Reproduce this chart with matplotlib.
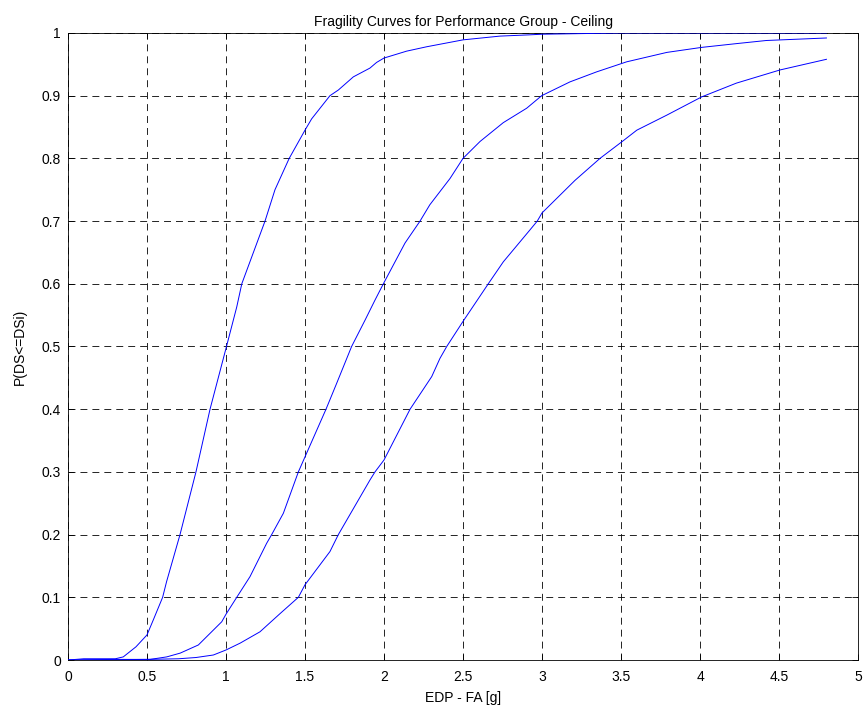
import numpy as np
import matplotlib
matplotlib.use("Agg")
import matplotlib.pyplot as plt

plt.rcParams['font.family'] = ['Liberation Sans', 'DejaVu Sans']
plt.rcParams['lines.scale_dashes'] = False

# values
edp_ds1 = [0, 0.1, 0.3, 0.35, 0.43, 0.5, 0.54, 0.599, 0.624, 0.709, 0.81, 0.899, 1.0, 1.068, 1.1,
           1.247, 1.31, 1.4, 1.5, 1.542, 1.658, 1.711, 1.806, 1.911, 1.953, 2.0, 2.143, 2.27,
           2.5, 2.734, 2.92, 3.0, 3.5, 4.0, 4.8]
p_ds1 = [0, 0.002, 0.002, 0.005, 0.021, 0.04, 0.064, 0.1, 0.125, 0.2, 0.3, 0.4, 0.497, 0.563, 0.6,
         0.70, 0.75, 0.80, 0.845, 0.863, 0.9, 0.909, 0.93, 0.944, 0.953, 0.96, 0.971, 0.978,
         0.989, 0.995, 0.997, 0.998, 1.0, 1.0, 1.0]

edp_ds2 = [0, 0.3, 0.52, 0.625, 0.71, 0.825, 0.973, 1.0, 1.068, 1.152, 1.257, 1.289, 1.363, 1.458,
           1.5, 1.633, 1.70, 1.795, 1.88, 1.943, 1.996, 2.133, 2.228, 2.29, 2.418, 2.5, 2.608,
           2.755, 2.903, 2.998, 3.177, 3.346, 3.536, 3.79, 4.01, 4.23, 4.42, 4.8]
p_ds2 = [0, 0.001, 0.001, 0.005, 0.011, 0.024, 0.061, 0.073, 0.10, 0.133, 0.186, 0.2, 0.234, 0.3,
         0.324, 0.4, 0.441, 0.5, 0.542, 0.574, 0.6, 0.665, 0.70, 0.726, 0.768, 0.8, 0.827,
         0.857, 0.88, 0.9, 0.922, 0.938, 0.954, 0.969, 0.977, 0.983, 0.988, 0.992]

edp_ds3 = [0, 0.5, 0.7, 0.81, 0.92, 1.0, 1.09, 1.215, 1.342, 1.458, 1.5, 1.658, 1.711, 1.911, 1.943,
           2.0, 2.165, 2.302, 2.354, 2.397, 2.5, 2.66, 2.755, 2.818, 2.924, 2.97, 3.0, 3.209,
           3.367, 3.508, 3.6, 3.79, 4.01, 4.23, 4.506, 4.8]
p_ds3 = [0, 0.001, 0.002, 0.004, 0.008, 0.016, 0.027, 0.045, 0.074, 0.1, 0.12, 0.173, 0.2, 0.287, 0.3,
         0.319, 0.4, 0.452, 0.481, 0.5, 0.54, 0.6, 0.635, 0.654, 0.686, 0.7, 0.713, 0.765,
         0.80, 0.827, 0.845, 0.869, 0.898, 0.92, 0.941, 0.958]

x_ticks = [0, 0.5, 1, 1.5, 2, 2.5, 3, 3.5, 4, 4.5, 5]
x_labels = ['0', '0.5', '1', '1.5', '2', '2.5', '3', '3.5', '4', '4.5', '5']
y_ticks = [0, 0.1, 0.2, 0.3, 0.4, 0.5, 0.6, 0.7, 0.8, 0.9, 1]
y_labels = ['0', '0.1', '0.2', '0.3', '0.4', '0.5', '0.6', '0.7', '0.8', '0.9', '1']

fig = plt.figure(figsize=(8.66, 7.12), dpi=100)
ax = fig.add_axes([0.0785, 0.073, 0.9123, 0.8807])

for x, y in [(edp_ds1, p_ds1), (edp_ds2, p_ds2), (edp_ds3, p_ds3)]:
    ax.plot(x, y, color='#0000ff', lw=0.7, zorder=3)

ax.set_xlim(0, 5)
ax.set_ylim(0, 1)
ax.set_xticks(x_ticks)
ax.set_xticklabels(x_labels)
ax.set_yticks(y_ticks)
ax.set_yticklabels(y_labels)
ax.tick_params(direction='in', length=4, width=0.6, labelsize=10, top=True, right=True)
ax.tick_params(axis='x', pad=7)
ax.tick_params(axis='y', pad=5)
ax.grid(True, color='black', linestyle=(0, (5, 3.6)), linewidth=0.6)
for s in ax.spines.values():
    s.set_linewidth(0.6)

ax.set_title('Fragility Curves for Performance Group - Ceiling', fontsize=10, pad=5)
ax.set_xlabel('EDP - FA [g]', fontsize=10, labelpad=5)
ax.set_ylabel('P(DS<=DSi)', fontsize=10, labelpad=11)

fig.savefig('out.png', dpi=100)
